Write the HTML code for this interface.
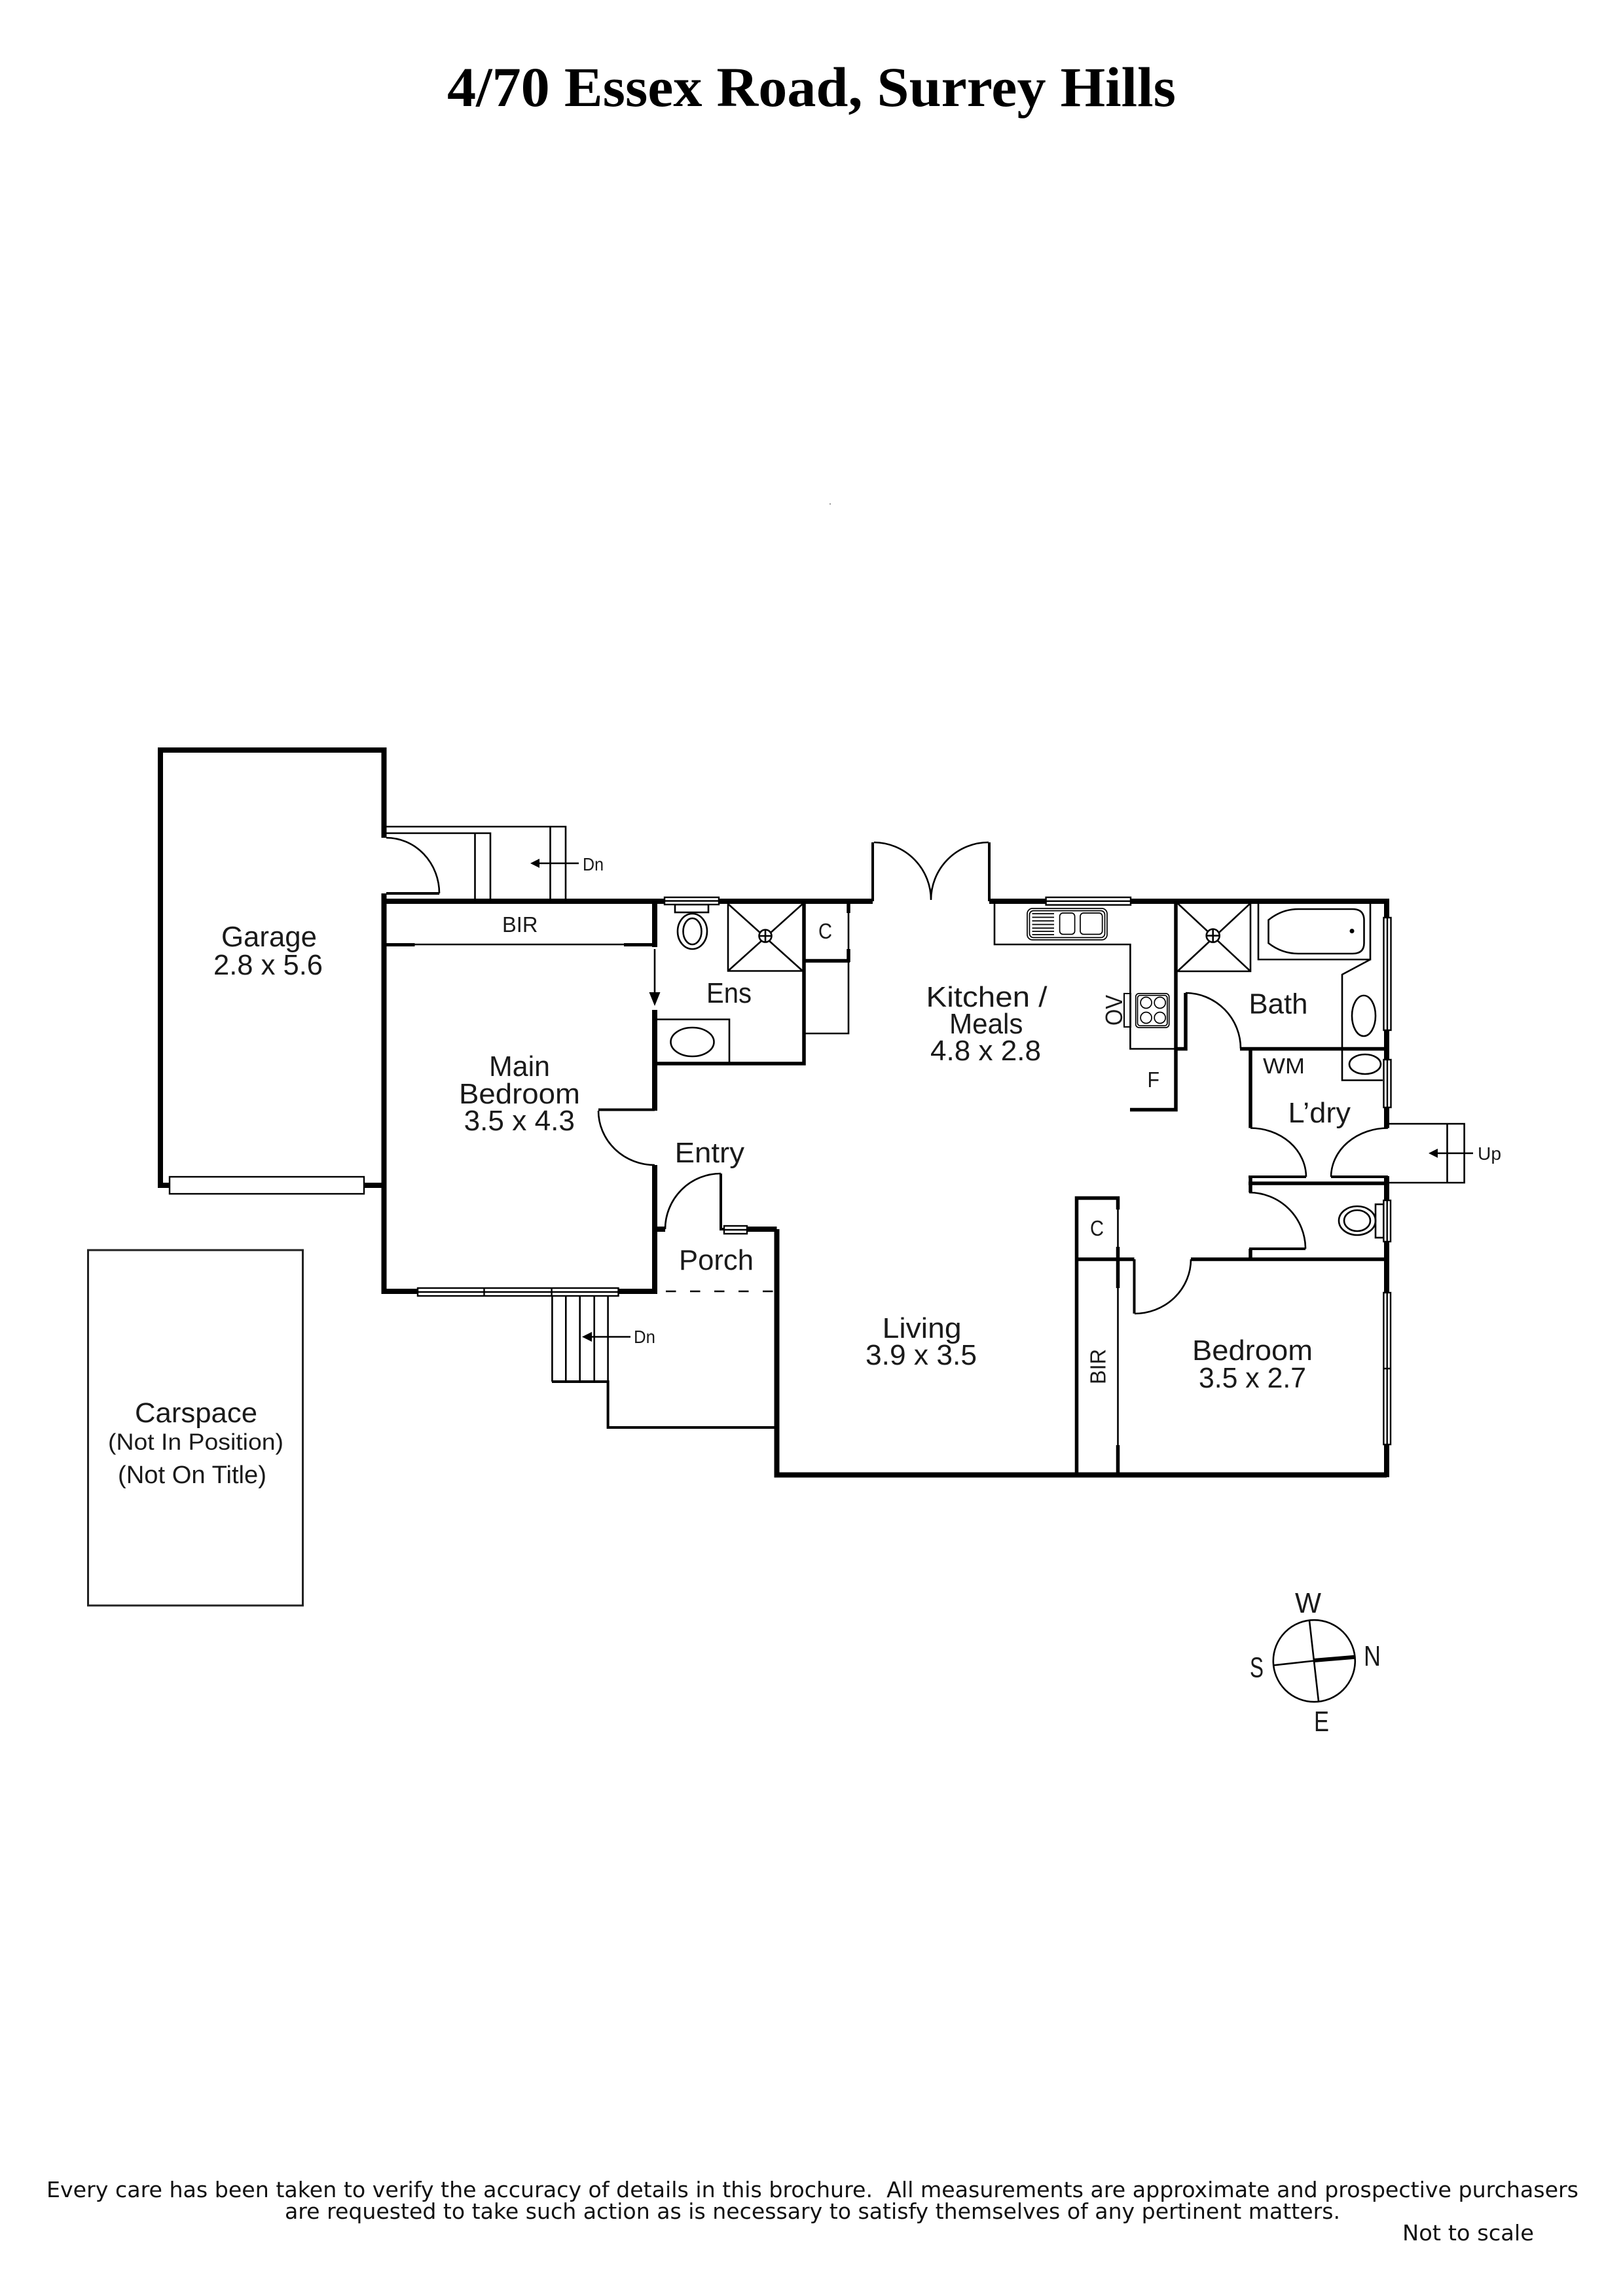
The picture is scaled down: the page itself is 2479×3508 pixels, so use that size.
<!DOCTYPE html>
<html><head><meta charset="utf-8"><style>
html,body{margin:0;padding:0;background:#fff}
svg{display:block}
text{font-family:"Liberation Sans",sans-serif;fill:#1a1a1a}
</style></head><body>
<svg xmlns="http://www.w3.org/2000/svg" width="2479" height="3508" viewBox="0 0 2479 3508">
<rect width="2479" height="3508" fill="#fff"/>
<text x="683" y="162" font-size="86" font-weight="bold" textLength="1113" lengthAdjust="spacingAndGlyphs" style='font-family:"Liberation Serif",serif;fill:#000'>4/70 Essex Road, Surrey Hills</text>
<rect x="1267" y="769" width="2" height="2" fill="#999"/>

<!-- thin lines -->
<g fill="none" stroke="#000" stroke-width="2.6">
<!-- garage steps -->
<path d="M590 1263H864V1375M590 1273H749V1375M725.5 1273V1375M840.5 1263V1375"/>
<path d="M884 1319H820"/>
<!-- garage door -->
<path d="M590 1280A81 85 0 0 1 671 1365"/>
<!-- main bed door -->
<path d="M914 1697A86 83 0 0 0 1000 1780"/>
<!-- entry door -->
<path d="M1016 1878A85 85 0 0 1 1101 1793"/>
<!-- kitchen doors -->
<path d="M1335 1287A88 88 0 0 1 1422 1375M1510 1287A88 88 0 0 0 1422 1375"/>
<!-- BIR track -->
<path d="M633 1443H953"/>
<path d="M1000 1450V1520"/>
<!-- closet below C -->
<path d="M1296 1395V1450M1296 1470V1579H1230"/>
<!-- stairs -->
<path d="M843.4 1980V2111M864.3 1980V2111M885.7 1980V2111M907.7 1980V2111M928.6 1980V2111"/>
<path d="M963 2042.5H900"/>
<!-- ens toilet -->
<rect x="1031" y="1382" width="51" height="12"/>
<ellipse cx="1057.5" cy="1423" rx="22.5" ry="27"/>
<ellipse cx="1057.5" cy="1423" rx="14" ry="20"/>
<!-- ens shower -->
<path d="M1112 1381V1483.5H1226M1112 1381L1226 1483.5M1226 1381L1112 1483.5"/>
<circle cx="1169" cy="1430" r="9.5" fill="#fff"/>
<path d="M1159.5 1430H1178.5M1169 1420.5V1439.5"/>
<!-- ens vanity -->
<path d="M1004 1557.5H1114V1623"/>
<ellipse cx="1057.5" cy="1592" rx="33" ry="22"/>
<!-- kitchen counter -->
<path d="M1519 1380V1443H1726.4V1602.5H1795"/>
<g stroke-width="1.7">
<rect x="1569" y="1388" width="122" height="48" rx="8"/>
<rect x="1572.5" y="1391.5" width="115" height="41" rx="6"/>
<path d="M1576.5 1396H1610M1576.5 1401.5H1610M1576.5 1407H1610M1576.5 1412.5H1610M1576.5 1418H1610M1576.5 1423H1610M1576.5 1428H1610"/>
<rect x="1618.6" y="1395" width="23" height="32.5" rx="5"/>
<rect x="1650" y="1395" width="33.7" height="32.5" rx="5"/>
<!-- cooktop -->
<rect x="1734.7" y="1518" width="51" height="52" rx="5"/>
<rect x="1737.5" y="1520.8" width="45.4" height="46.4" rx="4"/>
<circle cx="1750.6" cy="1532" r="8.5"/><circle cx="1771.7" cy="1532" r="8.5"/>
<circle cx="1750.6" cy="1555" r="8.5"/><circle cx="1771.7" cy="1555" r="8.5"/>
</g>
<rect x="1717" y="1518" width="10" height="51" stroke-width="2"/>
<!-- bath shower -->
<path d="M1910 1380V1484H1798.5M1798.5 1380L1910 1484M1910 1380L1798.5 1484"/>
<circle cx="1852.7" cy="1429.6" r="10" fill="#fff"/>
<path d="M1842.7 1429.6H1862.7M1852.7 1419.6V1439.6"/>
<!-- bath -->
<path d="M1922 1380V1466H2093V1380"/>
<path d="M1983 1389H2066Q2083.5 1389 2083.5 1406V1441Q2083.5 1457 2066 1457H1983Q1958 1457 1937.5 1441V1405.6Q1958 1389 1983 1389Z"/>
<!-- vanity -->
<path d="M2093 1466L2050 1489V1650.5H2112"/>
<ellipse cx="2083" cy="1552" rx="18" ry="31"/>
<ellipse cx="2085" cy="1626" rx="24" ry="15"/>
<!-- bath door -->
<path d="M1811 1517A85 85 0 0 1 1895 1602"/>
<!-- laundry doors -->
<path d="M1910 1723.5A85 75 0 0 1 1995 1798"/>
<path d="M2120 1723.5A87 75 0 0 0 2033 1798"/>
<!-- up steps -->
<path d="M2122 1717H2236.6V1807H2122M2210.5 1717V1807M2195 1762H2250"/>
<!-- WC door -->
<path d="M1908 1822A86 86 0 0 1 1994 1908"/>
<!-- WC -->
<ellipse cx="2073" cy="1865" rx="28" ry="22"/>
<ellipse cx="2073" cy="1865" rx="20" ry="16"/>
<rect x="2101" y="1840" width="12.4" height="51"/>
<!-- bedroom door -->
<path d="M1819 1924A86 83 0 0 1 1733 2007"/>
<!-- BIR lower track -->
<path d="M1707.5 1848V1905M1707.5 1968V2208"/>
<!-- carspace -->
<rect x="134.5" y="1910" width="328" height="543" stroke="#222" stroke-width="3"/>
<!-- compass -->
<circle cx="2007.3" cy="2537.7" r="62.5"/>
<path d="M2000 2476L2014 2599.3M1945.7 2544.3L2007 2537.5"/>
</g>
<path d="M2006.7 2537L2069.3 2531.7" stroke="#000" stroke-width="6"/>

<!-- walls -->
<g fill="none" stroke="#000" stroke-linecap="butt">
<g stroke-width="8">
<path d="M586.5 1280V1146H245V1811H259"/>
<path d="M556 1811H586.5"/>
<path d="M586.5 1365V1973H637M945 1973H1000V1780"/>
<path d="M586.5 1377H1333M1511 1377H2118V1402"/>
<path d="M1000 1377V1447M1000 1543V1697"/>
<path d="M1186.5 1878V2253.5H2118"/>
<path d="M1141 1878H1186.5M1000 1878H1016"/>
<path d="M2118 1574V1619M2118 1692V1723.5M2118 1797V1834M2118 1897V1975M2118 2207V2257"/>
</g>
<g stroke-width="5.5">
<path d="M1228 1377V1625H1000"/>
<path d="M1228 1468H1298M1296 1380V1395M1296 1450V1470"/>
<path d="M1333 1377V1287M1511 1377V1287" stroke-width="4"/>
<path d="M1796 1380V1695.5H1726"/>
<path d="M1795 1602.5H1811V1517M1894 1602.5H2118"/>
<path d="M1910 1602.5V1723.5"/>
<path d="M1907 1808H2120M1910 1798V1822"/>
<path d="M1819 1924H2118M1910 1908V1924"/>
<path d="M1644.5 2250V1830.5H1707.5V1848M1644.5 1924H1732.5"/>
<path d="M1707.5 1905V1968M1707.5 2208V2250"/>
</g>
<g stroke-width="4">
<path d="M590 1365H671"/>
<path d="M1732.5 1924V2007"/>
<path d="M1907 1798H1995M2033 1798H2120M1908 1908H1994"/>
<path d="M914 1695.5H1000"/>
<path d="M843 2111H928.6V2181H1183"/>
<path d="M1101 1793V1878H1106"/>
</g>
<path d="M583 1443.5H633.5M953 1443.5H1004" stroke-width="5"/>
<path d="M1003 1973H1183" stroke-width="2.6" stroke-dasharray="15.5 21.5" stroke-dashoffset="-14"/>
</g>

<!-- arrowheads -->
<g fill="#000">
<path d="M810 1319L824 1312V1326Z"/>
<path d="M889 2042.5L904 2035V2050Z"/>
<path d="M1000 1537L991.5 1516H1008.5Z"/>
<path d="M2182 1762L2196 1755V1769Z"/>
<circle cx="2065" cy="1422.5" r="3.5"/>
</g>

<!-- windows -->
<g fill="#fff" stroke="#000" stroke-width="2.4">
<rect x="259" y="1798" width="297" height="26"/>
<rect x="638" y="1968" width="306.5" height="12"/>
<path d="M638 1974H944.5M739.5 1968V1980M842.6 1968V1980" fill="none"/>
<rect x="1015" y="1371" width="83" height="11"/>
<path d="M1015 1376.5H1098" fill="none"/>
<rect x="1597.6" y="1371" width="129.4" height="11.6"/>
<path d="M1597.6 1376.8H1727" fill="none"/>
<rect x="1106" y="1873" width="35" height="12"/>
<path d="M1106 1879H1141" fill="none"/>
<rect x="2113.5" y="1402" width="11" height="172"/>
<path d="M2119 1402V1574" fill="none"/>
<rect x="2113.5" y="1619" width="11" height="73"/>
<path d="M2119 1619V1692" fill="none"/>
<rect x="2113.4" y="1834" width="10.6" height="63"/>
<path d="M2118.7 1834V1897" fill="none"/>
<rect x="2113.4" y="1975" width="10.6" height="232"/>
<path d="M2118.7 1975V2207M2113.4 2091H2124" fill="none"/>
</g>

<!-- labels -->
<g font-size="44">
<text x="338" y="1446" textLength="146" lengthAdjust="spacingAndGlyphs">Garage</text>
<text x="326" y="1489" textLength="167" lengthAdjust="spacingAndGlyphs">2.8 x 5.6</text>
<text x="1079" y="1532" textLength="69" lengthAdjust="spacingAndGlyphs">Ens</text>
<text x="747" y="1644" textLength="93" lengthAdjust="spacingAndGlyphs">Main</text>
<text x="701" y="1686" textLength="185" lengthAdjust="spacingAndGlyphs">Bedroom</text>
<text x="708.6" y="1727" textLength="169.4" lengthAdjust="spacingAndGlyphs">3.5 x 4.3</text>
<text x="1030.6" y="1776" textLength="106.4" lengthAdjust="spacingAndGlyphs">Entry</text>
<text x="1037" y="1940" textLength="114" lengthAdjust="spacingAndGlyphs">Porch</text>
<text x="1414.5" y="1538" textLength="185" lengthAdjust="spacingAndGlyphs">Kitchen /</text>
<text x="1450" y="1579" textLength="112.5" lengthAdjust="spacingAndGlyphs">Meals</text>
<text x="1421" y="1620" textLength="169" lengthAdjust="spacingAndGlyphs">4.8 x 2.8</text>
<text x="1907.5" y="1548.5" textLength="90" lengthAdjust="spacingAndGlyphs">Bath</text>
<text x="1967.5" y="1715" textLength="95.5" lengthAdjust="spacingAndGlyphs">L’dry</text>
<text x="1347.6" y="2044" textLength="121" lengthAdjust="spacingAndGlyphs">Living</text>
<text x="1322" y="2085" textLength="170" lengthAdjust="spacingAndGlyphs">3.9 x 3.5</text>
<text x="1821" y="2078" textLength="184" lengthAdjust="spacingAndGlyphs">Bedroom</text>
<text x="1831" y="2120" textLength="164" lengthAdjust="spacingAndGlyphs">3.5 x 2.7</text>
<text x="206" y="2173" font-size="43" textLength="187" lengthAdjust="spacingAndGlyphs">Carspace</text>
<text x="165" y="2215" font-size="35" textLength="268" lengthAdjust="spacingAndGlyphs">(Not In Position)</text>
<text x="180" y="2266" font-size="38" textLength="227" lengthAdjust="spacingAndGlyphs">(Not On Title)</text>
<text x="1978" y="2464" textLength="40" lengthAdjust="spacingAndGlyphs">W</text>
<text x="2083" y="2545" textLength="26" lengthAdjust="spacingAndGlyphs">N</text>
<text x="1909" y="2562.7" textLength="21" lengthAdjust="spacingAndGlyphs">S</text>
<text x="2007" y="2645" textLength="23" lengthAdjust="spacingAndGlyphs">E</text>
</g>
<g font-size="33.5">
<text x="767" y="1424" textLength="54.5" lengthAdjust="spacingAndGlyphs">BIR</text>
<text x="1250" y="1434" textLength="21" lengthAdjust="spacingAndGlyphs">C</text>
<text x="1665" y="1888" textLength="21" lengthAdjust="spacingAndGlyphs">C</text>
<text x="1929" y="1640" textLength="64" lengthAdjust="spacingAndGlyphs">WM</text>
<text x="1752.5" y="1661" textLength="18.5" lengthAdjust="spacingAndGlyphs">F</text>
<text transform="translate(1688.4 2115) rotate(-90)" textLength="54" lengthAdjust="spacingAndGlyphs">BIR</text>
<text transform="translate(1714 1567) rotate(-90)" font-size="36" textLength="47" lengthAdjust="spacingAndGlyphs">OV</text>
</g>
<g font-size="27.5">
<text x="890" y="1330" textLength="32" lengthAdjust="spacingAndGlyphs">Dn</text>
<text x="968" y="2052" textLength="33" lengthAdjust="spacingAndGlyphs">Dn</text>
<text x="2257" y="1772" textLength="36" lengthAdjust="spacingAndGlyphs">Up</text>
</g>

<!-- footer -->
<g font-size="33">
<text x="71" y="3357" textLength="2340" lengthAdjust="spacingAndGlyphs" style='font-family:"DejaVu Sans",sans-serif;fill:#111'>Every care has been taken to verify the accuracy of details in this brochure.&#160; All measurements are approximate and prospective purchasers</text>
<text x="435" y="3390" textLength="1612" lengthAdjust="spacingAndGlyphs" style='font-family:"DejaVu Sans",sans-serif;fill:#111'>are requested to take such action as is necessary to satisfy themselves of any pertinent matters.</text>
<text x="2142" y="3423" textLength="201" lengthAdjust="spacingAndGlyphs" style='font-family:"DejaVu Sans",sans-serif;fill:#111'>Not to scale</text>
</g>
</svg>
</body></html>
